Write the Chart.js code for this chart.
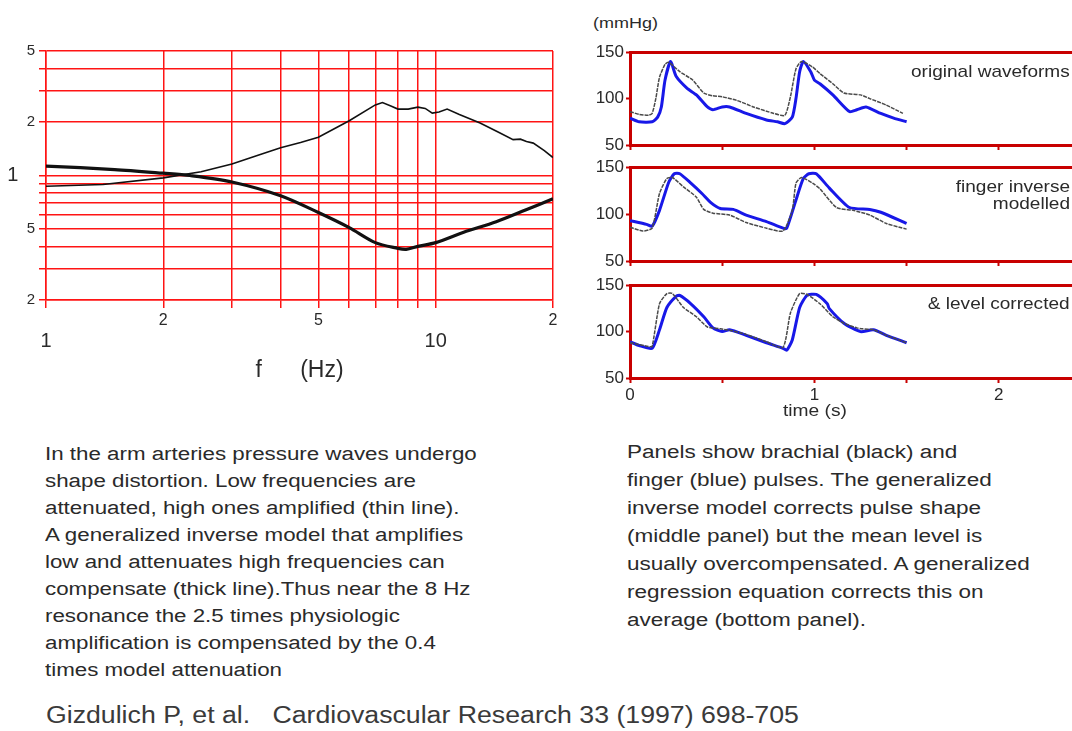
<!DOCTYPE html>
<html>
<head>
<meta charset="utf-8">
<script src="https://cdn.jsdelivr.net/npm/chart.js@4.4.0/dist/chart.umd.min.js"></script>
<style>
  html, body { margin: 0; padding: 0; background: #fff; overflow: hidden; width: 1072px; height: 731px; }
  body { position: relative; font-family: Arial, "Liberation Sans", sans-serif; color: #2a2a2a; }
  .abs { position: absolute; white-space: nowrap; }
  .wide { transform-origin: left top; }
  canvas { display: block; }
  #gainBox { position: absolute; left: 0; top: 0; width: 580px; height: 400px; }
  .panel { position: absolute; left: 580px; width: 520px; }
  #p1Box { top: 40px; height: 120px; }
  #p2Box { top: 155px; height: 120px; }
  #p3Box { top: 273px; height: 150px; }
  .para { font-size: 18px; line-height: 27px; transform: scaleX(1.24); transform-origin: left top; }
  .tag { font-size: 17px; line-height: 17px; text-align: right; right: 2px; transform: scaleX(1.12); transform-origin: right top; }
</style>
</head>
<body>

<div id="gainBox"><canvas id="gainChart"></canvas></div>
<div class="panel" id="p1Box"><canvas id="p1Chart"></canvas></div>
<div class="panel" id="p2Box"><canvas id="p2Chart"></canvas></div>
<div class="panel" id="p3Box"><canvas id="p3Chart"></canvas></div>

<div class="abs wide" style="left:593px; top:14px; font-size:15px; transform:scaleX(1.2);">(mmHg)</div>
<div class="abs tag" style="top:63px;">original waveforms</div>
<div class="abs tag" style="top:178px;">finger inverse<br>modelled</div>
<div class="abs tag" style="top:295px;">&amp; level corrected</div>
<div class="abs wide" style="left:783px; top:402px; font-size:16px; transform:scaleX(1.2);">time (s)</div>

<div class="abs para" style="left:45px; top:441px;">
In the arm arteries pressure waves undergo<br>
shape distortion. Low frequencies are<br>
attenuated, high ones amplified (thin line).<br>
A generalized inverse model that amplifies<br>
low and attenuates high frequencies can<br>
compensate (thick line).Thus near the 8 Hz<br>
resonance the 2.5 times physiologic<br>
amplification is compensated by the 0.4<br>
times model attenuation
</div>

<div class="abs para" style="left:627px; top:438px; line-height:28px; transform:scaleX(1.25);">
Panels show brachial (black) and<br>
finger (blue) pulses. The generalized<br>
inverse model corrects pulse shape<br>
(middle panel) but the mean level is<br>
usually overcompensated. A generalized<br>
regression equation corrects this on<br>
average (bottom panel).
</div>

<div class="abs wide" style="left:46px; top:701px; font-size:23px; line-height:28px; color:#3a3a3a; transform:scaleX(1.16);">Gizdulich P, et al.&nbsp;&nbsp; Cardiovascular Research 33 (1997) 698-705</div>

<script>
// ---- gain vs frequency (log-log) ----
const freqTicks = [1, 2, 3, 4, 5, 6, 7, 8, 9, 10, 20];
const gainTicks = [0.2, 0.3, 0.4, 0.5, 0.6, 0.7, 0.8, 0.9, 1, 2, 3, 4, 5];

// thin line: physiologic arm transfer (brachial -> finger)
const thinFreq = [1, 1.4, 2, 2.5, 3, 3.5, 4, 4.5, 5, 6, 7, 7.3, 7.7, 8, 8.5, 9, 9.4, 9.8, 10.2, 10.7, 11.5, 13, 14.5, 15.8, 16.5, 17.1, 17.8, 19, 20];
const thinGain = [0.87, 0.89, 0.97, 1.05, 1.16, 1.3, 1.43, 1.53, 1.64, 2.03, 2.49, 2.57, 2.45, 2.36, 2.36, 2.42, 2.38, 2.24, 2.27, 2.36, 2.2, 1.97, 1.75, 1.59, 1.6, 1.55, 1.52, 1.38, 1.26];

// thick line: generalized inverse model
const thickFreq = [1, 1.5, 2, 2.34, 3, 4, 5, 6, 7, 8, 8.4, 9, 10, 11.8, 14.3, 17, 20];
const thickGain = [1.13, 1.08, 1.03, 1.0, 0.92, 0.77, 0.62, 0.51, 0.42, 0.39, 0.385, 0.4, 0.42, 0.48, 0.55, 0.64, 0.74];

// ---- pressure waveforms (mmHg) ----
const timeTicks = [0, 0.5, 1, 1.5, 2, 2.5];

const p1BrachT = [0, 0.05, 0.1, 0.12, 0.14, 0.16, 0.19, 0.21, 0.27, 0.34, 0.4, 0.45, 0.5, 0.58, 0.67, 0.78, 0.84, 0.87, 0.9, 0.93, 0.99, 1.03, 1.1, 1.16, 1.25, 1.3, 1.39, 1.48];
const p1BrachP = [86, 83, 82, 84, 100, 123, 137, 139, 129, 120, 106, 103, 102, 98, 91, 84, 82, 102, 132, 140, 134, 127, 116, 106, 104, 100, 93, 84];
const p1FingerT = [0, 0.05, 0.12, 0.15, 0.17, 0.19, 0.22, 0.25, 0.31, 0.36, 0.42, 0.45, 0.5, 0.54, 0.63, 0.74, 0.8, 0.84, 0.88, 0.9, 0.92, 0.94, 0.98, 1.0, 1.03, 1.1, 1.19, 1.23, 1.28, 1.36, 1.43, 1.5];
const p1FingerP = [79, 75, 75, 80, 91, 120, 140, 124, 111, 104, 91, 88, 91, 91, 84, 77, 75, 73, 80, 100, 129, 140, 129, 120, 116, 104, 86, 88, 91, 84, 79, 75];

const p2BrachT = [0, 0.07, 0.12, 0.16, 0.2, 0.23, 0.29, 0.36, 0.4, 0.45, 0.54, 0.63, 0.74, 0.83, 0.88, 0.9, 0.93, 0.99, 1.03, 1.12, 1.21, 1.3, 1.39, 1.5];
const p2BrachP = [86, 82, 85, 122, 138, 139, 129, 118, 105, 101, 99, 91, 85, 82, 104, 133, 139, 133, 127, 107, 104, 99, 90, 84];
const p2FingerT = [0, 0.09, 0.12, 0.16, 0.21, 0.24, 0.27, 0.33, 0.39, 0.44, 0.49, 0.56, 0.63, 0.74, 0.83, 0.85, 0.9, 0.94, 0.97, 1.01, 1.08, 1.19, 1.3, 1.36, 1.5];
const p2FingerP = [93, 89, 87, 104, 134, 143, 143, 133, 122, 112, 106, 105, 99, 92, 85, 85, 115, 138, 143, 143, 128, 107, 105, 102, 90];

const p3BrachT = [0, 0.1, 0.12, 0.16, 0.2, 0.23, 0.29, 0.36, 0.42, 0.49, 0.55, 0.63, 0.74, 0.83, 0.87, 0.92, 0.96, 1.03, 1.1, 1.16, 1.23, 1.26, 1.32, 1.39, 1.5];
const p3BrachP = [88, 84, 84, 130, 141, 141, 126, 116, 105, 103, 101, 97, 89, 83, 120, 141, 140, 130, 116, 109, 104, 103, 102, 96, 88];
const p3FingerT = [0, 0.05, 0.12, 0.16, 0.2, 0.25, 0.27, 0.33, 0.4, 0.45, 0.5, 0.54, 0.63, 0.74, 0.83, 0.85, 0.88, 0.92, 0.96, 1.01, 1.07, 1.08, 1.16, 1.25, 1.32, 1.39, 1.5];
const p3FingerP = [89, 85, 82, 102, 126, 138, 139, 130, 116, 104, 100, 102, 96, 88, 82, 80, 91, 126, 139, 140, 130, 125, 109, 100, 102, 96, 88];

const gridRed = '#ff1414';
const frameRed = '#c80000';
const inkColor = '#2a2a2a';

function toPoints(xs, ys) {
  return xs.map((x, i) => ({ x: x, y: ys[i] }));
}

// ===== Left: gain chart =====
new Chart(document.getElementById('gainChart'), {
  type: 'line',
  data: {
    datasets: [
      {
        label: 'physiologic',
        data: toPoints(thinFreq, thinGain),
        borderColor: '#111',
        borderWidth: 1.6,
        pointRadius: 0,
        tension: 0
      },
      {
        label: 'inverse model',
        data: toPoints(thickFreq, thickGain),
        borderColor: '#111',
        borderWidth: 3.2,
        pointRadius: 0,
        tension: 0.3
      }
    ]
  },
  options: {
    responsive: true,
    maintainAspectRatio: false,
    animation: false,
    layout: { padding: { top: 51, right: 27, bottom: 0, left: 0 } },
    plugins: { legend: { display: false }, tooltip: { enabled: false } },
    scales: {
      x: {
        type: 'logarithmic',
        min: 1,
        max: 20,
        afterBuildTicks: s => { s.ticks = freqTicks.map(v => ({ value: v })); },
        afterFit: s => { s.height = 100; },
        grid: { color: gridRed, lineWidth: 1.5, tickLength: 8 },
        border: { color: gridRed, width: 1.5 },
        ticks: {
          autoSkip: false,
          maxRotation: 0,
          padding: 3,
          color: inkColor,
          font: ctx => (ctx.tick && (ctx.tick.value === 1 || ctx.tick.value === 10))
            ? { family: 'Arial', size: 20, lineHeight: 1.0 }
            : { family: 'Arial', size: 16, lineHeight: 1.2 },
          callback: function(value) {
            if (value === 1) return ['', '1'];
            if (value === 10) return ['', '10'];
            if (value === 2 || value === 20) return '2';
            if (value === 5) return '5';
            return '';
          }
        },
        title: {
          display: true,
          text: 'f      (Hz)',
          color: inkColor,
          font: { family: 'Arial', size: 23 },
          padding: { top: 0, bottom: 16 }
        }
      },
      y: {
        type: 'logarithmic',
        min: 0.2,
        max: 5,
        afterBuildTicks: s => { s.ticks = gainTicks.map(v => ({ value: v })); },
        afterFit: s => { s.width = 46; },
        grid: { color: gridRed, lineWidth: 1.5, tickLength: 7 },
        border: { color: gridRed, width: 1.5 },
        ticks: {
          autoSkip: false,
          padding: 4,
          color: inkColor,
          font: ctx => (ctx.tick && ctx.tick.value === 1)
            ? { family: 'Arial', size: 20 }
            : { family: 'Arial', size: 15 },
          callback: function(value) {
            if (value === 1) return '1   ';
            if (value === 5 || value === 0.5) return '5';
            if (value === 2 || value === 0.2) return '2';
            return '';
          }
        }
      }
    }
  }
});

// ===== Right: waveform panels =====
function makePanel(canvasId, brachT, brachP, fingerT, fingerP, axisHeight, showTime) {
  new Chart(document.getElementById(canvasId), {
    type: 'line',
    data: {
      datasets: [
        {
          label: 'brachial',
          data: toPoints(brachT, brachP),
          borderColor: '#4a4a4a',
          borderWidth: 1.5,
          borderDash: [4, 1],
          pointRadius: 0,
          tension: 0.2
        },
        {
          label: 'finger',
          data: toPoints(fingerT, fingerP),
          borderColor: '#1818e8',
          borderWidth: 3,
          pointRadius: 0,
          tension: 0.2
        }
      ]
    },
    options: {
      responsive: true,
      maintainAspectRatio: false,
      animation: false,
      layout: { padding: { top: 12, right: 9, bottom: 0, left: 0 } },
      plugins: { legend: { display: false }, tooltip: { enabled: false } },
      scales: {
        x: {
          type: 'linear',
          min: 0,
          max: 2.5,
          afterBuildTicks: s => { s.ticks = timeTicks.map(v => ({ value: v })); },
          afterFit: s => { s.height = axisHeight; },
          grid: { drawOnChartArea: false, color: frameRed, tickColor: frameRed, tickLength: 5, tickWidth: 2 },
          border: { color: frameRed, width: 3 },
          ticks: {
            autoSkip: false,
            maxRotation: 0,
            padding: 2,
            color: inkColor,
            font: { family: 'Arial', size: 17 },
            callback: function(value) {
              if (!showTime) return '';
              return Number.isInteger(value) ? String(value) : '';
            }
          }
        },
        y: {
          min: 50,
          max: 150,
          afterBuildTicks: s => { s.ticks = [50, 100, 150].map(v => ({ value: v })); },
          afterFit: s => { s.width = 50; },
          grid: {
            color: ctx => (ctx.tick && ctx.tick.value === 150) ? frameRed : 'transparent',
            lineWidth: 3,
            tickColor: frameRed,
            tickWidth: 2,
            tickLength: 4
          },
          border: { color: frameRed, width: 3 },
          ticks: {
            padding: 2,
            color: inkColor,
            font: { family: 'Arial', size: 17 }
          }
        }
      }
    }
  });
}

makePanel('p1Chart', p1BrachT, p1BrachP, p1FingerT, p1FingerP, 15, false);
makePanel('p2Chart', p2BrachT, p2BrachP, p2FingerT, p2FingerP, 14, false);
makePanel('p3Chart', p3BrachT, p3BrachP, p3FingerT, p3FingerP, 45, true);
</script>
</body>
</html>
